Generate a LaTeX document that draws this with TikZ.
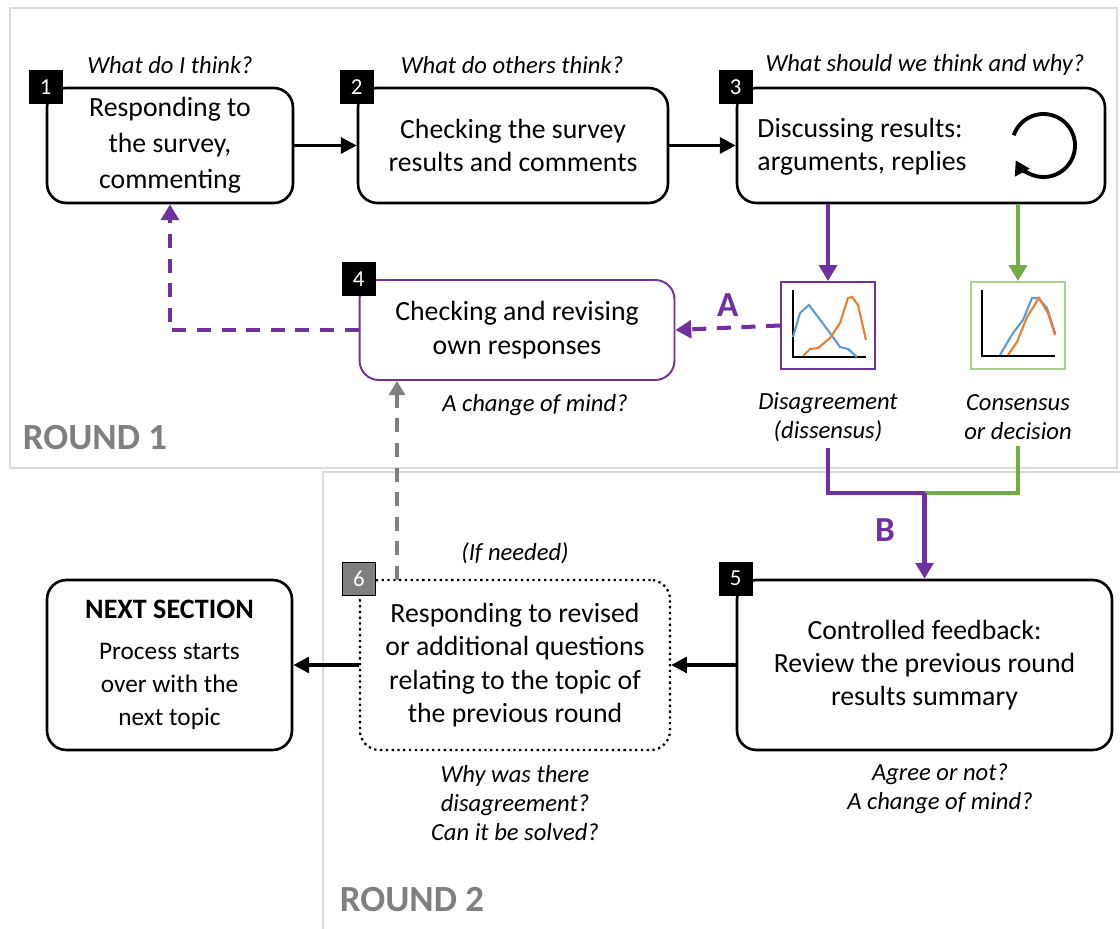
\documentclass[tikz,border=0pt]{standalone}
\usepackage{fontspec}
\setmainfont{Carlito}
\usetikzlibrary{arrows.meta}

\definecolor{dpurple}{HTML}{7030A0}
\definecolor{dgreen}{HTML}{70AD47}
\definecolor{lgreen}{HTML}{A9D18E}
\definecolor{cblue}{HTML}{5B9BD5}
\definecolor{corange}{HTML}{ED7D31}
\definecolor{roundline}{HTML}{DADADA}
\definecolor{roundtext}{HTML}{7F7F7F}

\newcommand{\smalltext}{\fontsize{14.4}{18}\selectfont}

\tikzset{
  stepbox/.style={draw, line width=1.5pt, rounded corners=11pt, align=center,
    font=\fontsize{15.8}{19}\selectfont, inner sep=2pt},
  numsq/.style={fill=black, draw=black, text=white, minimum size=0.66cm,
    inner sep=0pt, font=\fontsize{13}{13}\selectfont},
  ask/.style={align=center, font=\itshape\fontsize{14}{16.5}\selectfont},
  flow/.style={line width=2pt, -{Triangle[length=9pt,width=9pt]}},
  pflow/.style={flow, dpurple, line width=2.3pt, -{Triangle[length=9pt,width=10pt]}},
  pdash/.style={pflow, dash pattern=on 8pt off 6pt},
  chartbox/.style={draw, line width=1.1pt, minimum width=1.88cm, minimum height=1.74cm},
  roundlbl/.style={text=roundtext, font=\bfseries\fontsize{21}{21}\selectfont},
  letter/.style={text=dpurple, font=\bfseries\fontsize{20}{20}\selectfont}
}

\begin{document}
\begin{tikzpicture}[x=0.02cm, y=-0.02cm]
    \useasboundingbox (0,0) rectangle (1120,929);

    % round frames
    \draw[roundline, line width=1.5pt] (10,8) rectangle (1117,468);
    \draw[roundline, line width=1.5pt] (323,929) -- (323,472) -- (1120,472);
    \node[roundlbl] (r1) at (95,438) {ROUND 1};
    \node[roundlbl] (r2) at (412,900) {ROUND 2};

    % round 1 steps
    \node[stepbox, font=\fontsize{15.8}{20.5}\selectfont, minimum width=4.92cm,
        minimum height=2.3cm] (b1) at (170,145.5)
        {Responding to\\the survey,\\commenting};
    \node[stepbox, minimum width=6.2cm, minimum height=2.3cm] (b2) at (513,145.5)
        {Checking the survey\\results and comments};
    \node[stepbox, minimum width=7.36cm, minimum height=2.3cm] (b3) at (921,145.5) {};
    \node[align=left, font=\fontsize{15.8}{19}\selectfont] (t3) at (862,147)
        {Discussing results:\\arguments, replies};
    \node[stepbox, draw=dpurple, line width=1.1pt, minimum width=6.3cm, minimum height=2cm]
        (b4) at (517,330) {Checking and revising\\own responses};

    \node[numsq] (n1) at (b1.north west) {1};
    \node[numsq] (n2) at (b2.north west) {2};
    \node[numsq] (n3) at (b3.north west) {3};
    \node[numsq] (n4) at (b4.north west) {4};

    \node[ask] (q1) at (170,65) {What do I think?};
    \node[ask] (q2) at (512,65) {What do others think?};
    \node[ask] (q3) at (925,65) {What should we think and why?};
    \node[ask] (q4) at (535,405) {A change of mind?};

    % loop sign
    \coordinate (loop) at (1043.5,145.5);
    \draw[line width=2.2pt, -{Triangle[length=8pt,width=9pt]}]
        (loop) ++(161:0.63cm) arc[start angle=161, end angle=-152, radius=0.63cm];

    % charts
    \node[chartbox, draw=dpurple] (dis) at (828,325.5) {};
    \node[chartbox, draw=lgreen] (con) at (1018,325.5) {};
    \draw[line width=1.2pt] (793,290) -- (793,357) -- (866,357);
    \draw[cblue, line width=1.2pt] (793,337) -- (800,313) -- (809,305) -- (818,317)
        -- (830,333) -- (840,347) -- (848,349) -- (857,357);
    \draw[corange, line width=1.2pt] (803,356) -- (810,349) -- (818,348) -- (830,338)
        -- (840,323) -- (848,298) -- (852,297) -- (858,305) -- (866,340);
    \draw[line width=1.2pt] (982,290) -- (982,356) -- (1055,356);
    \draw[cblue, line width=1.2pt] (1000,355) -- (1013,333) -- (1023,320) -- (1032,298)
        -- (1038,298) -- (1047,308) -- (1055,333);
    \draw[corange, line width=1.2pt] (1008,355) -- (1017,342) -- (1027,317) -- (1039,298)
        -- (1048,313) -- (1055,335);
    \node[ask] (dislbl) at (828,417) {Disagreement\\(dissensus)};
    \node[ask] (conlbl) at (1018,417) {Consensus\\or decision};

    % round 2 steps
    \node[stepbox, minimum width=7.5cm, minimum height=3.4cm] (b5) at (924.5,665)
        {Controlled feedback:\\Review the previous round\\results summary};
    \node[stepbox, line width=1.3pt, dotted, minimum width=6.2cm, minimum height=3.4cm]
        (b6) at (515,665)
        {Responding to revised\\or additional questions\\relating to the topic of\\the previous round};
    \node[stepbox, minimum width=4.9cm, minimum height=3.4cm] (nxt) at (169.5,665)
        {\fontsize{16}{19}\selectfont\textbf{NEXT SECTION}\\[4pt]\smalltext Process starts\\\smalltext over with the\\\smalltext next topic};

    \node[numsq] (n5) at (b5.north west) {5};
    \node[numsq, fill=roundtext] (n6) at (b6.north west) {6};

    \node[ask] (q5) at (940,789) {Agree or not?\\A change of mind?};
    \node[ask] (q6) at (515,803) {Why was there\\disagreement?\\Can it be solved?};
    \node[ask] (ifneed) at (515,553) {(If needed)};

    % connectors
    \draw[flow] (b1) -- (b2);
    \draw[flow] (b2) -- (b3);
    \draw[pflow] (b3.south -| dis.north) -- (dis.north);
    \draw[flow, dgreen, line width=2.3pt, -{Triangle[length=9pt,width=10pt]}]
        (b3.south -| con.north) -- (con.north);
    \draw[pdash] (dis.west) -- node[letter, above=2pt] (la) {A} (b4.east);
    \draw[pdash] (b4.west) -| (b1.south);

    \coordinate (join) at (924.5,493);
    \draw[dpurple, line width=2.3pt] (dislbl.south) |- (join);
    \draw[dgreen, line width=2.3pt] (conlbl.south) |- (join);
    \draw[pflow] (join) -- (join |- b5.north);
    \node[letter] (lb) at (885,530) {B};

    \coordinate (up6) at (397,580);
    \draw[flow, roundtext, line width=2.2pt, dash pattern=on 8pt off 6pt,
        -{Triangle[length=8pt,width=9pt]}] (up6) -- (up6 |- b4.south);
    \draw[flow] (b5) -- (b6);
    \draw[flow] (b6) -- (nxt);
\end{tikzpicture}
\end{document}
